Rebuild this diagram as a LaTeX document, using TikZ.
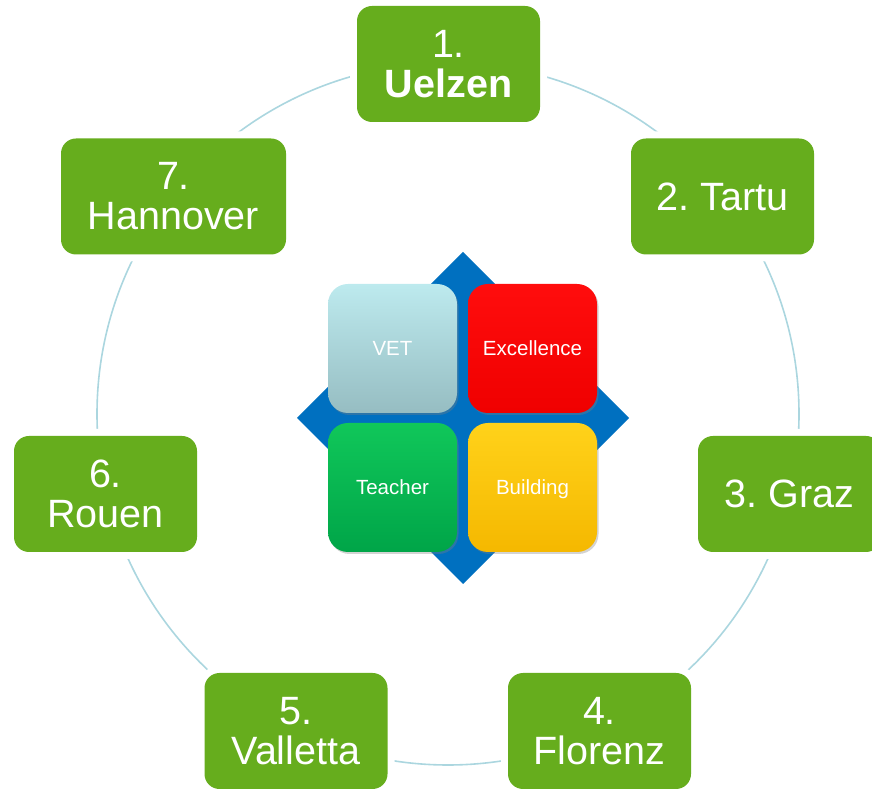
\documentclass[tikz,border=0pt]{standalone}
\usepackage{fontspec}
\setmainfont{Liberation Sans}
\usepackage{tikz}
\usetikzlibrary{shadows}

\definecolor{citygreen}{HTML}{66AD1D}
\definecolor{ringblue}{HTML}{ABD6DF}
\definecolor{diamondblue}{HTML}{0070C0}
\definecolor{vettop}{HTML}{BDEAEE}
\definecolor{vetbottom}{HTML}{96BDC2}
\definecolor{teachertop}{HTML}{10C75A}
\definecolor{teacherbottom}{HTML}{00A548}
\definecolor{buildingtop}{HTML}{FFD21A}
\definecolor{buildingbottom}{HTML}{F5B800}

\tikzset{
  city/.style={fill=citygreen, text=white, rounded corners=15pt, align=center,
    minimum width=183pt, minimum height=116pt, inner sep=0pt,
    font=\fontsize{39.5}{40}\selectfont,
    preaction={draw=white, line width=14pt}},
  tile/.style={rounded corners=20pt, minimum width=129pt, minimum height=129pt,
    inner sep=0pt, text=white, font=\fontsize{20.5}{22}\selectfont,
    text height=15pt, text depth=0pt,
    drop shadow={shadow xshift=1.5pt, shadow yshift=-2pt, opacity=0.35}},
}

\begin{document}
\frenchspacing
\begin{tikzpicture}[x=1pt,y=1pt]
\useasboundingbox (0,0) rectangle (872,789);

%ring
\draw[ringblue, line width=1.6pt] (448,375) circle (351pt);

%cities
\node[city] (uelzen) at (448.5,725) {1.\\\textbf{Uelzen}};
\node[city] (tartu) at (722.5,592.5) {2. Tartu};
\node[city] (graz) at (789.5,295) {3. Graz};
\node[city] (florenz) at (599.5,58) {4.\\Florenz};
\node[city] (valletta) at (296,58) {5.\\Valletta};
\node[city] (rouen) at (105.5,295) {6.\\Rouen};
\node[city, minimum width=225pt] (hannover) at (173.5,592.5) {7.\\Hannover};

%diamond
\fill[diamondblue] (463,537) -- (629,371) -- (463,205) -- (297,371) -- cycle;

%tiles
\node[tile, top color=vettop, bottom color=vetbottom] (vet) at (392.5,440.5) {VET};
\node[tile, top color=red!95!white, bottom color=red!94!black] (excellence) at (532.5,440.5) {Excellence};
\node[tile, top color=teachertop, bottom color=teacherbottom] (teacher) at (392.5,301.5) {Teacher};
\node[tile, top color=buildingtop, bottom color=buildingbottom] (building) at (532.5,301.5) {Building};

\end{tikzpicture}
\end{document}
